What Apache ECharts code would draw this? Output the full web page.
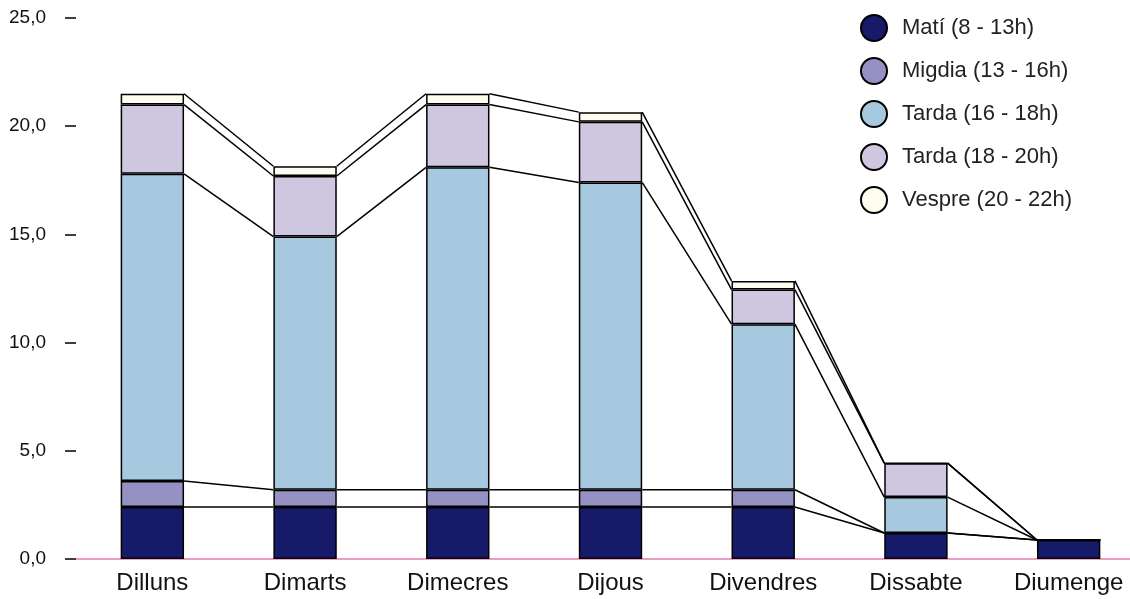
<!DOCTYPE html>
<html>
<head>
<meta charset="utf-8">
<script src="https://cdn.jsdelivr.net/npm/echarts@6/dist/echarts.min.js"></script>
<style>
  html, body { margin: 0; padding: 0; background: #fff; }
  #chart { width: 1130px; height: 599px; }
</style>
</head>
<body>
<div id="chart"></div>
<script>
const days = ['Dilluns', 'Dimarts', 'Dimecres', 'Dijous', 'Divendres', 'Dissabte', 'Diumenge']
const seriesNames = ['Matí (8 - 13h)', 'Migdia (13 - 16h)', 'Tarda (16 - 18h)', 'Tarda (18 - 20h)', 'Vespre (20 - 22h)']
const mati = [2.4, 2.4, 2.4, 2.4, 2.4, 1.2, 0.88]
const migdia = [1.2, 0.8, 0.8, 0.8, 0.8, 0, 0]
const tarda1 = [14.2, 11.7, 14.9, 14.2, 7.65, 1.66, 0]
const tarda2 = [3.2, 2.8, 2.9, 2.8, 1.6, 1.57, 0]
const vespre = [0.5, 0.45, 0.5, 0.45, 0.4, 0, 0]
const yTicks = [0, 5, 10, 15, 20, 25]

const colors = ['#161a68', '#9591c3', '#a7c9df', '#cfc6e0', '#fffdef']
const values = [mati, migdia, tarda1, tarda2, vespre]
const barRatio = 0.415

// cumulative tops, one array per stack level
const tops = []
let running = days.map(() => 0)
values.forEach((arr) => {
  running = running.map((v, i) => v + arr[i])
  tops.push(running.slice())
})

const chart = echarts.init(document.getElementById('chart'))

const barSeries = values.map((arr, k) => ({
  name: seriesNames[k],
  type: 'bar',
  stack: 'total',
  barWidth: (barRatio * 100) + '%',
  data: arr,
  itemStyle: { color: colors[k], borderColor: '#000', borderWidth: 1.5 },
  emphasis: { disabled: true },
  z: 2
}))

// series lines joining the stack tops of neighbouring bars
const lineSeries = tops.map((top) => ({
  type: 'custom',
  silent: true,
  z: 3,
  data: days.slice(0, -1).map((d, i) => [i, top[i], top[i + 1]]),
  renderItem: (params, api) => {
    const i = api.value(0)
    const half = api.size([1, 0])[0] * barRatio / 2
    const p1 = api.coord([i, api.value(1)])
    const p2 = api.coord([i + 1, api.value(2)])
    return {
      type: 'line',
      shape: { x1: p1[0] + half, y1: p1[1], x2: p2[0] - half, y2: p2[1] },
      style: { stroke: '#000', lineWidth: 1.5 }
    }
  }
}))

const option = {
  animation: false,
  textStyle: { fontFamily: 'Liberation Sans, Arial, sans-serif' },
  legend: {
    orient: 'vertical',
    left: 855,
    top: 9,
    icon: 'circle',
    itemWidth: 26,
    itemHeight: 26,
    itemGap: 15,
    data: seriesNames,
    textStyle: { fontSize: 22, color: '#222', padding: [0, 0, 0, 10] }
  },
  grid: { left: 76, width: 1069, top: 18, bottom: 40, outerBoundsMode: 'none' },
  xAxis: {
    type: 'category',
    data: days,
    axisLine: { lineStyle: { color: '#e97cb3', width: 1.5 } },
    axisTick: { show: false },
    axisLabel: { fontSize: 24, color: '#111', margin: 12 }
  },
  yAxis: {
    type: 'value',
    min: yTicks[0],
    max: yTicks[yTicks.length - 1],
    interval: 5,
    axisLine: { show: false },
    axisTick: { show: true, length: 11, lineStyle: { color: '#000', width: 1.5 } },
    splitLine: { show: false },
    axisLabel: {
      fontSize: 19,
      color: '#111',
      margin: 30,
      formatter: (v) => v.toFixed(1).replace('.', ',')
    }
  },
  series: [...barSeries, ...lineSeries]
}
chart.setOption(option)
</script>
</body>
</html>
